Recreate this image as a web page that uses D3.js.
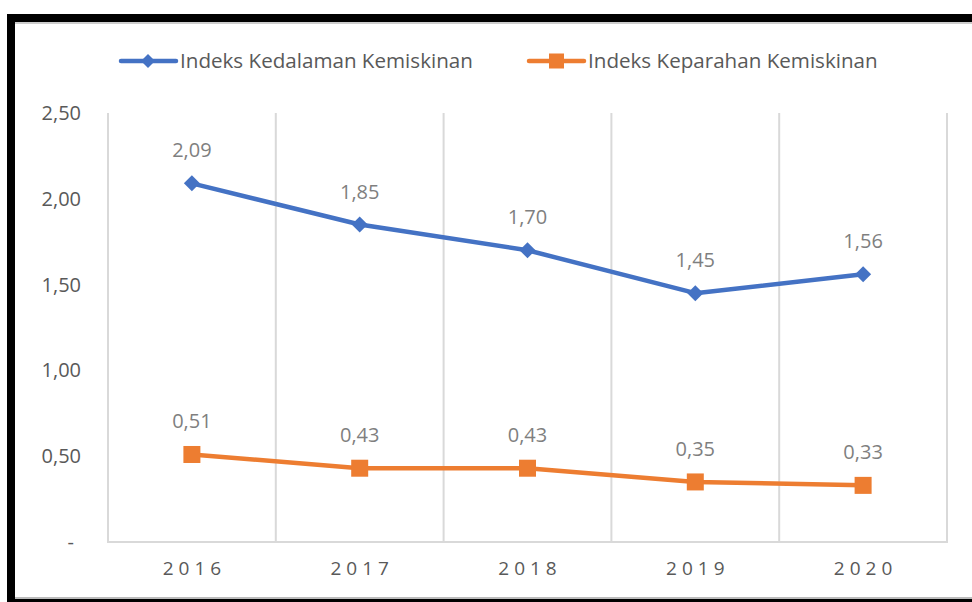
<!DOCTYPE html>
<html>
<head>
<meta charset="utf-8">
<script src="https://cdn.jsdelivr.net/npm/d3@7"></script>
<style>
  body { margin: 0; background: #fff; }
  text { font-family: "Open Sans", "Noto Sans", sans-serif; }
</style>
</head>
<body>
<div id="chart"></div>
<script>
var width = 972;
var height = 602;

var years = ['2016', '2017', '2018', '2019', '2020'];
var kedalaman = [2.09, 1.85, 1.70, 1.45, 1.56];
var keparahan = [0.51, 0.43, 0.43, 0.35, 0.33];
var yTicks = [0, 0.5, 1, 1.5, 2, 2.5];

var seriesNames = ['Indeks Kedalaman Kemiskinan', 'Indeks Keparahan Kemiskinan'];
var colors = ['#4472C4', '#ED7D31'];

var plot = { left: 108, right: 947, top: 113, bottom: 542 };

var fmt = (v) => v.toFixed(2).replace('.', ',');

// diamond marker path, r = half diagonal
var diamond = (r) => `M0,${-r}L${r},0L0,${r}L${-r},0Z`;

var svg = d3.select('#chart')
    .append('svg')
    .attr('width', width)
    .attr('height', height);

svg.append('rect').attr('width', width).attr('height', height).attr('fill', '#fff');

var x = d3.scaleBand()
    .domain(years)
    .range([plot.left, plot.right])
    .padding(0);

var y = d3.scaleLinear()
    .domain([0, 2.5])
    .range([plot.bottom, plot.top]);

// vertical gridlines at category edges
var edges = years.map((d) => x(d)).concat([plot.right]);
svg.append('g')
    .selectAll('line')
    .data(edges)
    .enter()
    .append('line')
    .attr('x1', (d) => d)
    .attr('x2', (d) => d)
    .attr('y1', plot.top)
    .attr('y2', plot.bottom)
    .attr('stroke', '#d9d9d9')
    .attr('stroke-width', 2);

svg.append('line')
    .attr('x1', plot.left - 1)
    .attr('x2', plot.right + 1)
    .attr('y1', plot.bottom)
    .attr('y2', plot.bottom)
    .attr('stroke', '#d9d9d9')
    .attr('stroke-width', 2);

// y axis labels
var yAxis = d3.axisLeft(y)
    .tickValues(yTicks)
    .tickSize(0)
    .tickPadding(27)
    .tickFormat((d) => d === 0 ? '-' : fmt(d));
var yg = svg.append('g')
    .attr('transform', `translate(${plot.left},0)`)
    .call(yAxis);
yg.select('.domain').remove();
yg.selectAll('text')
    .attr('fill', '#595959')
    .style('font-size', '20px')
    .style('font-family', '"Open Sans", sans-serif')
    .attr('dx', (d) => d === 0 ? '-7px' : 0);

// x axis labels
var xAxis = d3.axisBottom(x).tickSize(0).tickPadding(20);
var xg = svg.append('g')
    .attr('transform', `translate(0,${plot.bottom})`)
    .call(xAxis);
xg.select('.domain').remove();
xg.selectAll('text')
    .attr('fill', '#595959')
    .attr('dx', '2.5px')
    .style('font-size', '19px')
    .style('letter-spacing', '5px')
    .style('font-family', '"Open Sans", sans-serif');

var cx = (i) => x(years[i]) + x.bandwidth() / 2;
var line = d3.line()
    .x((d, i) => cx(i))
    .y((d) => y(d));

var allSeries = [kedalaman, keparahan];

allSeries.forEach((vals, s) => {
    svg.append('path')
        .datum(vals)
        .attr('d', line)
        .attr('fill', 'none')
        .attr('stroke', colors[s])
        .attr('stroke-width', 4.5)
        .attr('stroke-linejoin', 'round');
});

// markers
svg.append('g')
    .selectAll('path')
    .data(kedalaman)
    .enter()
    .append('path')
    .attr('d', diamond(8))
    .attr('transform', (d, i) => `translate(${cx(i)},${y(d)})`)
    .attr('fill', colors[0]);

svg.append('g')
    .selectAll('rect')
    .data(keparahan)
    .enter()
    .append('rect')
    .attr('x', (d, i) => cx(i) - 8.5)
    .attr('y', (d) => y(d) - 8.5)
    .attr('width', 17)
    .attr('height', 17)
    .attr('fill', colors[1]);

// data labels
allSeries.forEach((vals, s) => {
    svg.append('g')
        .selectAll('text')
        .data(vals)
        .enter()
        .append('text')
        .attr('x', (d, i) => cx(i))
        .attr('y', (d) => y(d) - 26)
        .attr('text-anchor', 'middle')
        .attr('fill', '#7f7f7f')
        .style('font-size', '20px')
        .text((d) => fmt(d));
});

// legend
var legendX = [121, 529];
seriesNames.forEach((name, s) => {
    var lg = svg.append('g').attr('transform', `translate(${legendX[s]},61)`);
    lg.append('line')
        .attr('x1', 0).attr('x2', 55)
        .attr('y1', 0).attr('y2', 0)
        .attr('stroke', colors[s])
        .attr('stroke-width', 4.5)
        .attr('stroke-linecap', 'round');
    if (s === 0) {
        lg.append('path')
            .attr('d', diamond(7))
            .attr('transform', 'translate(27,0)')
            .attr('fill', colors[s]);
    } else {
        lg.append('rect')
            .attr('x', 20).attr('y', -7.5)
            .attr('width', 15).attr('height', 15)
            .attr('fill', colors[s]);
    }
    lg.append('text')
        .attr('x', 59)
        .attr('y', 0)
        .attr('dy', '0.35em')
        .attr('fill', '#595959')
        .style('font-size', '20.6px')
        .text(name);
});

// black frame
svg.append('rect').attr('x', 7).attr('y', 14).attr('width', width - 7).attr('height', 8).attr('fill', '#000');
svg.append('rect').attr('x', 7).attr('y', 14).attr('width', 8).attr('height', height - 14).attr('fill', '#000');
svg.append('rect').attr('x', 15).attr('y', 597).attr('width', width - 15).attr('height', 2).attr('fill', '#bbb');
svg.append('rect').attr('x', 7).attr('y', 599).attr('width', width - 7).attr('height', 3).attr('fill', '#000');
svg.append('rect').attr('x', 15).attr('y', 22).attr('width', width - 15).attr('height', 2).attr('fill', '#ccc');
</script>
</body>
</html>
